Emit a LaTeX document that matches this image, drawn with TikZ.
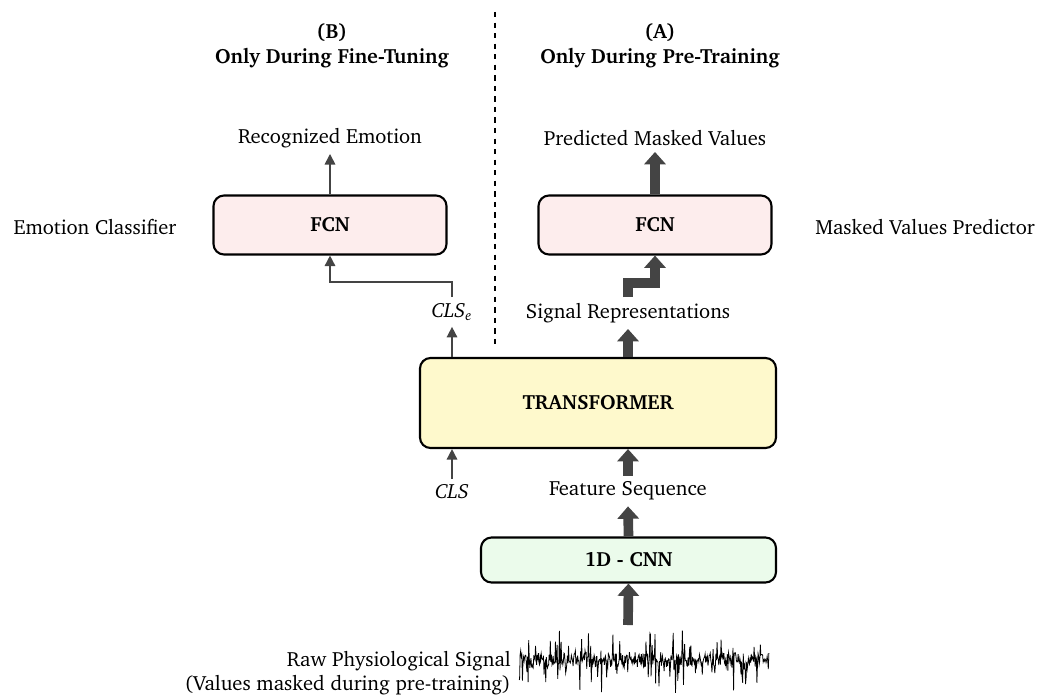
\documentclass[tikz,border=0pt]{standalone}
\usepackage[T1]{fontenc}
\usepackage{charter}
\usetikzlibrary{arrows.meta}
\definecolor{fcnpink}{HTML}{FDEDED}
\definecolor{trfyellow}{HTML}{FEF9CC}
\definecolor{cnngreen}{HTML}{EBFBEB}
\definecolor{arrowgray}{HTML}{444444}
\tikzset{
  every node/.style={font=\fontsize{11.7}{14}\selectfont},
  blockbox/.style={draw, line width=1.2pt, rounded corners=6pt, font=\fontsize{11.7}{14}\selectfont\bfseries},
  thin arrow/.style={draw=arrowgray, line width=0.9pt, -{Triangle[width=6pt,length=6pt]}},
  thick arrow/.style={draw=arrowgray, line width=5.5pt, -{Triangle[width=12pt,length=7pt]}}
}
\begin{document}
\begin{tikzpicture}
\useasboundingbox (0,0) rectangle (20.82,13.9);
% split between the two heads
\draw[dashed, line width=0.9pt] (9.9,13.66) -- (9.9,7.0);
\node[align=center, font=\fontsize{11.7}{14}\selectfont\bfseries] (headB) at (6.64,12.98) {(B)\\Only During Fine-Tuning};
\node[align=center, font=\fontsize{11.7}{14}\selectfont\bfseries] (headA) at (13.2,12.98) {(A)\\Only During Pre-Training};
% heads
\node (recog) at (6.6,11.14) {Recognized Emotion};
\node (pred) at (13.1,11.14) {Predicted Masked Values};
\node[blockbox, fill=fcnpink, minimum width=4.66cm, minimum height=1.18cm] (fcnB) at (6.6,9.4) {FCN};
\node[blockbox, fill=fcnpink, minimum width=4.66cm, minimum height=1.18cm] (fcnA) at (13.1,9.4) {FCN};
\node (clf) at (1.9,9.36) {Emotion Classifier};
\node (mvp) at (18.5,9.36) {Masked Values Predictor};
\node (clse) at (9.04,7.66) {\textit{CLS}\textsubscript{\textit{e}}};
\node (sigrep) at (12.56,7.64) {Signal Representations};
% backbone
\node[blockbox, fill=trfyellow, minimum width=7.12cm, minimum height=1.8cm] (trf) at (11.96,5.84) {TRANSFORMER};
\node (cls) at (9.04,4.06) {\textit{CLS}};
\node (feat) at (12.56,4.08) {Feature Sequence};
\node[blockbox, fill=cnngreen, minimum width=5.9cm, minimum height=0.9cm] (cnn) at (12.57,2.7) {1D - CNN};
\node[align=right, anchor=east] (raw) at (10.34,0.44) {Raw Physiological Signal\\(Values masked during pre-training)};
% raw signal
\pgfmathsetseed{5}
\draw[line width=0.45pt] plot[domain=10.38:15.38, samples=440] (\x, {0.7 + 0.14*rand + 0.55*rand^7});
\coordinate (sig) at (12.56,1.4);
% connectors
\draw[thin arrow] (fcnB.north) -- (recog.south);
\draw[thick arrow] (fcnA.north) -- (pred.south);
\draw[thin arrow] (clse.north) -- ++(0,0.3) -| (fcnB.south);
\draw[thick arrow, line join=miter] (sigrep.north) -- ++(0,0.28) -| (fcnA.south);
\draw[thin arrow] (trf.north -| clse) -- (clse.south);
\draw[thick arrow] (trf.north -| sigrep) -- (sigrep.south);
\draw[thin arrow] (cls.north) -- (trf.south -| cls);
\draw[thick arrow] (feat.north) -- (trf.south -| feat);
\draw[thick arrow] (cnn.north) -- (feat.south);
\draw[thick arrow] (sig) -- (cnn.south);
\end{tikzpicture}
\end{document}
